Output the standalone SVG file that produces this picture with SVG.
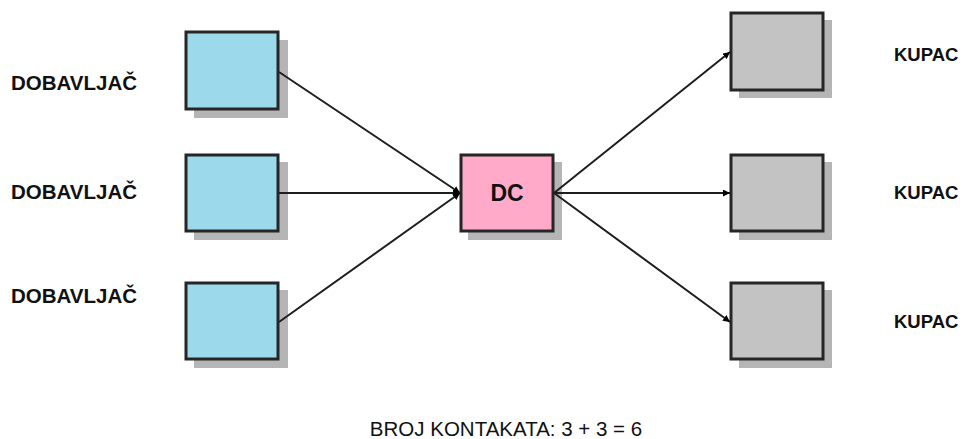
<svg xmlns="http://www.w3.org/2000/svg" width="966" height="439" viewBox="0 0 966 439">
<defs>
<style>
.shadow{fill:#b5b5b5;stroke:none}
.box{stroke:#262626;stroke-width:3}
.sup{fill:#9cd9ea}
.dc{fill:#ffaac8}
.cus{fill:#c3c3c3}
.lbl{font-family:"Liberation Sans",Arial,sans-serif;font-weight:bold;fill:#111}
.note{font-family:"Liberation Sans",Arial,sans-serif;font-size:20.5px;fill:#111}
.conn{stroke:#1e1e1e;stroke-width:2;fill:none;marker-end:url(#arr)}
</style>
<marker id="arr" viewBox="0 0 10 10" refX="10" refY="5" markerWidth="7" markerHeight="7" orient="auto" markerUnits="userSpaceOnUse">
<path d="M0,0 L10,5 L0,10 z" fill="#000"/>
</marker>
</defs>
<rect width="966" height="439" fill="#fff"/>
<g id="sup1"><rect class="shadow" x="194" y="40" width="94" height="78"/><rect class="box sup" x="186" y="32" width="92" height="77"/></g>
<g id="sup2"><rect class="shadow" x="194" y="162" width="94" height="78"/><rect class="box sup" x="186" y="155" width="92" height="76"/></g>
<g id="sup3"><rect class="shadow" x="194" y="290" width="94" height="78"/><rect class="box sup" x="186" y="283" width="92" height="76"/></g>
<g id="dc"><rect class="shadow" x="468" y="162" width="94" height="78"/><rect class="box dc" x="461" y="155" width="92" height="76"/><text class="lbl" x="507" y="201" text-anchor="middle" font-size="23">DC</text></g>
<g id="cus1"><rect class="shadow" x="739" y="20" width="93" height="78"/><rect class="box cus" x="731" y="13" width="92" height="77"/></g>
<g id="cus2"><rect class="shadow" x="739" y="162" width="93" height="78"/><rect class="box cus" x="731" y="155" width="92" height="76"/></g>
<g id="cus3"><rect class="shadow" x="739" y="290" width="93" height="78"/><rect class="box cus" x="731" y="283" width="92" height="76"/></g>
<g id="connectors">
<line class="conn" x1="279" y1="72" x2="460" y2="193"/>
<line class="conn" x1="279" y1="193" x2="460" y2="193"/>
<line class="conn" x1="279" y1="322" x2="460" y2="193"/>
<line class="conn" x1="554" y1="193" x2="730" y2="52"/>
<line class="conn" x1="554" y1="193" x2="730" y2="193"/>
<line class="conn" x1="554" y1="193" x2="730" y2="322"/>
</g>
<g id="labels">
<text class="lbl" x="11" y="90" font-size="20.5">DOBAVLJAČ</text>
<text class="lbl" x="11" y="199" font-size="20.5">DOBAVLJAČ</text>
<text class="lbl" x="11" y="303" font-size="20.5">DOBAVLJAČ</text>
<text class="lbl" x="894" y="61" font-size="18.5">KUPAC</text>
<text class="lbl" x="894" y="199" font-size="18.5">KUPAC</text>
<text class="lbl" x="894" y="328" font-size="18.5">KUPAC</text>
<text class="note" x="506" y="436" text-anchor="middle">BROJ KONTAKATA: 3 + 3 = 6</text>
</g>
</svg>
